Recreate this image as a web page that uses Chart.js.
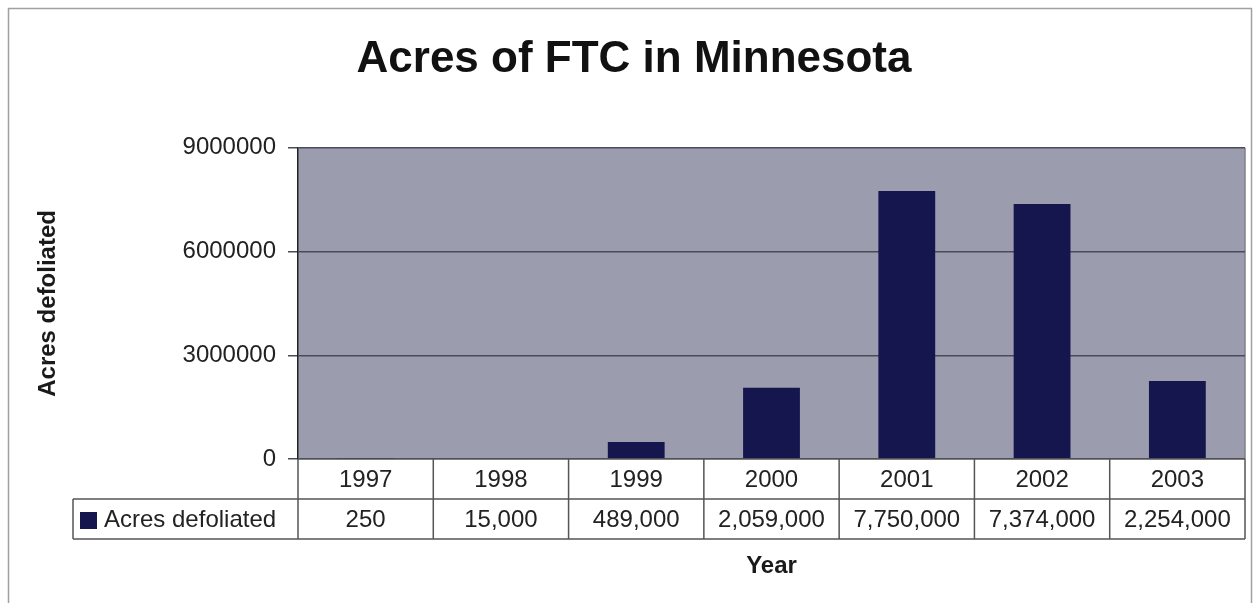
<!DOCTYPE html>
<html>
<head>
<meta charset="utf-8">
<script src="https://cdn.jsdelivr.net/npm/chart.js@4"></script>
<style>
  html, body { margin: 0; padding: 0; background: #fff; }
  canvas { display: block; }
</style>
</head>
<body>
<canvas id="ftcChart" width="1257" height="603"></canvas>
<script>
// data
var years = ['1997', '1998', '1999', '2000', '2001', '2002', '2003'];
var acresDefoliated = [250, 15000, 489000, 2059000, 7750000, 7374000, 2254000];
var seriesName = 'Acres defoliated';
var yTicks = [0, 3000000, 6000000, 9000000];

var FONT = '"Liberation Sans", Arial, sans-serif';
var BAR_COLOR = '#16164e';

// gray plot area + outer frame
var backdrop = {
  id: 'backdrop',
  beforeDraw: function (chart) {
    var c = chart.ctx, a = chart.chartArea;
    c.save();
    c.fillStyle = '#fff';
    c.fillRect(0, 0, chart.width, chart.height);
    c.strokeStyle = '#a0a0a0';
    c.lineWidth = 1.5;
    c.strokeRect(8.5, 8.5, 1243, 610);
    c.fillStyle = '#9b9daf';
    c.fillRect(a.left, a.top, a.right - a.left, a.bottom - a.top);
    c.strokeStyle = '#80808a';
    c.lineWidth = 1.5;
    c.beginPath();
    c.moveTo(a.right, a.top);
    c.lineTo(a.right, a.bottom);
    c.stroke();
    c.restore();
  }
};

// data table under the plot, like Excel's "show data table"
var dataTable = {
  id: 'dataTable',
  afterDraw: function (chart) {
    var c = chart.ctx, a = chart.chartArea, x = chart.scales.x;
    var colW = (a.right - a.left) / years.length;
    var r0 = a.bottom, r1 = r0 + 40, r2 = r1 + 40;
    var legendLeft = 73;
    c.save();
    c.fillStyle = '#fff';
    c.fillRect(legendLeft, r1, a.right - legendLeft, r2 - r1);
    c.fillRect(a.left, r0, a.right - a.left, r1 - r0);
    c.strokeStyle = '#555';
    c.lineWidth = 1.5;
    c.beginPath();
    c.moveTo(a.left, r0); c.lineTo(a.right, r0);
    c.moveTo(legendLeft, r1); c.lineTo(a.right, r1);
    c.moveTo(legendLeft, r2); c.lineTo(a.right, r2);
    c.moveTo(legendLeft, r1); c.lineTo(legendLeft, r2);
    for (var i = 0; i <= years.length; i++) {
      var bx = a.left + i * colW;
      c.moveTo(bx, r0); c.lineTo(bx, r2);
    }
    c.stroke();

    c.font = '24px ' + FONT;
    c.fillStyle = '#222';
    c.textAlign = 'center';
    c.textBaseline = 'middle';
    years.forEach(function (yr, i) {
      var cx = x.getPixelForValue(i);
      c.fillText(yr, cx, (r0 + r1) / 2 + 1);
      c.fillText(acresDefoliated[i].toLocaleString('en-US'), cx, (r1 + r2) / 2 + 1);
    });

    // legend key
    c.fillStyle = BAR_COLOR;
    c.fillRect(80, r1 + 13, 17, 17);
    c.fillStyle = '#222';
    c.textAlign = 'left';
    c.fillText(seriesName, 104, (r1 + r2) / 2 + 1);

    // axis titles
    c.font = 'bold 24px ' + FONT;
    c.fillStyle = '#1a1a1a';
    c.textAlign = 'center';
    c.fillText('Year', (a.left + a.right) / 2, 566);
    c.translate(48, (a.top + a.bottom) / 2);
    c.rotate(-Math.PI / 2);
    c.fillText(seriesName, 0, 0);
    c.restore();
  }
};

var ctx = document.getElementById('ftcChart').getContext('2d');
var myChart = new Chart(ctx, {
  type: 'bar',
  data: {
    labels: years,
    datasets: [{
      label: seriesName,
      data: acresDefoliated,
      backgroundColor: BAR_COLOR,
      barPercentage: 0.42,
      categoryPercentage: 1.0
    }]
  },
  options: {
    responsive: false,
    animation: false,
    devicePixelRatio: 1,
    layout: { padding: { left: 23, right: 12, top: 0, bottom: 0 } },
    plugins: {
      legend: { display: false },
      tooltip: { enabled: false },
      title: {
        display: true,
        text: 'Acres of FTC in Minnesota',
        color: '#111',
        font: { family: FONT, size: 44, weight: 'bold' },
        padding: { top: 33, bottom: 62 }
      }
    },
    scales: {
      x: {
        ticks: { display: false },
        grid: { display: false, drawTicks: false },
        border: { display: false },
        afterFit: function (s) { s.height = 144; }
      },
      y: {
        min: 0,
        max: 9000000,
        afterBuildTicks: function (s) {
          s.ticks = yTicks.map(function (v) { return { value: v }; });
        },
        afterFit: function (s) { s.width = 275; },
        ticks: {
          color: '#222',
          font: { family: FONT, size: 24 },
          padding: 12,
          callback: function (v) { return String(v); }
        },
        grid: { color: '#4a4b58', lineWidth: 1.5, tickLength: 10 },
        border: { display: true, color: '#222', width: 1.5 }
      }
    }
  },
  plugins: [backdrop, dataTable]
});
</script>
</body>
</html>
